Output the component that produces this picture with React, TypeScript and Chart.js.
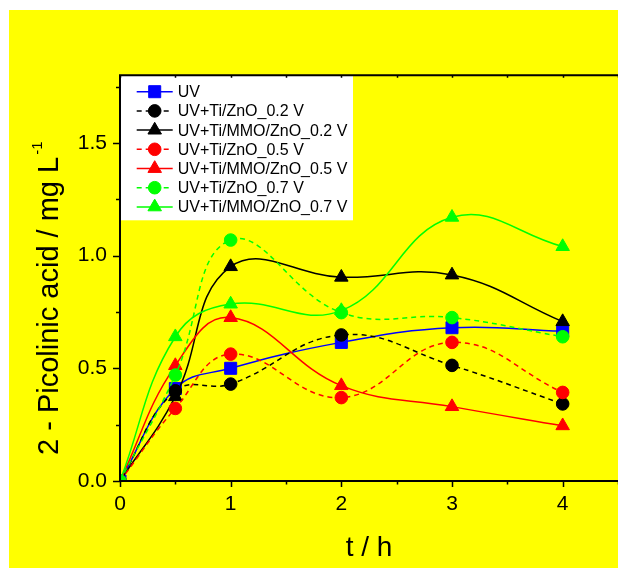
import React, { useEffect, useRef } from 'react';
import { Chart, registerables } from 'chart.js';

Chart.register(...registerables);

// ---- data ----
const times = [0, 0.5, 1, 2, 3, 4];
const seriesLabels = [
  'UV',
  'UV+Ti/ZnO_0.2 V',
  'UV+Ti/MMO/ZnO_0.2 V',
  'UV+Ti/ZnO_0.5 V',
  'UV+Ti/MMO/ZnO_0.5 V',
  'UV+Ti/ZnO_0.7 V',
  'UV+Ti/MMO/ZnO_0.7 V',
];
const uv = [0, 0.41, 0.5, 0.615, 0.68, 0.665];
const zno02 = [0, 0.4, 0.43, 0.648, 0.513, 0.342];
const mmo02 = [0, 0.374, 0.951, 0.904, 0.914, 0.707];
const zno05 = [0, 0.322, 0.563, 0.37, 0.615, 0.393];
const mmo05 = [0, 0.512, 0.725, 0.423, 0.33, 0.245];
const zno07 = [0, 0.47, 1.069, 0.747, 0.725, 0.64];
const mmo07 = [0, 0.64, 0.785, 0.756, 1.17, 1.04];
const seriesValues = [uv, zno02, mmo02, zno05, mmo05, zno07, mmo07];

const xTicks = [0, 0.5, 1, 1.5, 2, 2.5, 3, 3.5, 4, 4.5];
const yTicks = [0, 0.25, 0.5, 0.75, 1, 1.25, 1.5, 1.75];
const xTitle = 't / h';
const yTitleMain = '2 - Picolinic acid / mg L';
const yTitleSup = '-1';

// ---- styles ----
const FONT = "'Liberation Sans', Arial, Helvetica, sans-serif";
const seriesStyles = [
  { color: '#0000ff', dash: [] as number[], shape: 'rect', r: 8.5 },
  { color: '#000000', dash: [5, 4], shape: 'circle', r: 6.3 },
  { color: '#000000', dash: [] as number[], shape: 'triangle', r: 7.8 },
  { color: '#ff0000', dash: [5, 4], shape: 'circle', r: 6.3 },
  { color: '#ff0000', dash: [] as number[], shape: 'triangle', r: 7.8 },
  { color: '#00ff00', dash: [5, 4], shape: 'circle', r: 6.3 },
  { color: '#00ff00', dash: [] as number[], shape: 'triangle', r: 7.8 },
];

function drawMarker(ctx: CanvasRenderingContext2D, shape: string, x: number, y: number, r: number, color: string) {
  ctx.save();
  ctx.setLineDash([]);
  ctx.fillStyle = color;
  ctx.strokeStyle = color;
  ctx.lineWidth = 1;
  ctx.beginPath();
  if (shape === 'rect') {
    const s = Math.SQRT1_2 * r;
    ctx.rect(x - s, y - s, 2 * s, 2 * s);
  } else if (shape === 'triangle') {
    let rad = 0;
    ctx.moveTo(x + Math.sin(rad) * r, y - Math.cos(rad) * r);
    rad += (2 * Math.PI) / 3;
    ctx.lineTo(x + Math.sin(rad) * r, y - Math.cos(rad) * r);
    rad += (2 * Math.PI) / 3;
    ctx.lineTo(x + Math.sin(rad) * r, y - Math.cos(rad) * r);
    ctx.closePath();
  } else {
    ctx.arc(x, y, r, 0, Math.PI * 2);
  }
  ctx.fill();
  ctx.stroke();
  ctx.restore();
}

const framePlugin = {
  id: 'frameLegend',
  afterDatasetsDraw(chart: any) {
    const { ctx, chartArea: ca, scales } = chart;
    const xs = scales.x;
    const ys = scales.y;
    ctx.save();

    // legend box
    ctx.fillStyle = '#ffffff';
    ctx.fillRect(ca.left, ca.top, 233, 145);
    const rowTop = ca.top + 16.4;
    const rowStep = 19.2;
    seriesLabels.forEach((label, i) => {
      const st = seriesStyles[i];
      const cy = rowTop + i * rowStep;
      ctx.save();
      ctx.strokeStyle = st.color;
      ctx.lineWidth = 1.5;
      ctx.setLineDash(st.dash);
      ctx.beginPath();
      ctx.moveTo(ca.left + 16.7, cy);
      ctx.lineTo(ca.left + 52.7, cy);
      ctx.stroke();
      ctx.restore();
      drawMarker(ctx, st.shape, ca.left + 34.7, cy, st.r, st.color);
      ctx.fillStyle = '#000';
      ctx.font = `16px ${FONT}`;
      ctx.textBaseline = 'middle';
      ctx.textAlign = 'left';
      ctx.fillText(label, ca.left + 57.7, cy + 1);
    });

    // axes lines
    ctx.strokeStyle = '#000';
    ctx.lineWidth = 2;
    ctx.setLineDash([]);
    ctx.beginPath();
    ctx.moveTo(ca.left, ca.top);
    ctx.lineTo(ca.left, ca.bottom);
    ctx.moveTo(ca.left - 1, ca.bottom);
    ctx.lineTo(chart.width, ca.bottom);
    ctx.moveTo(ca.left - 1, ca.top);
    ctx.lineTo(chart.width, ca.top);
    ctx.stroke();

    // ticks
    ctx.lineWidth = 1.5;
    ctx.beginPath();
    xTicks.forEach((v) => {
      const px = Math.round(xs.getPixelForValue(v)) + 0.5;
      const major = Math.abs(v - Math.round(v)) < 1e-9;
      ctx.moveTo(px, ca.bottom);
      ctx.lineTo(px, ca.bottom + (major ? 6 : 3.5));
      ctx.moveTo(px, ca.top);
      ctx.lineTo(px, ca.top + 2.5);
    });
    yTicks.forEach((v) => {
      const py = Math.round(ys.getPixelForValue(v)) + 0.5;
      const major = Math.abs(v * 2 - Math.round(v * 2)) < 1e-9;
      ctx.moveTo(ca.left, py);
      ctx.lineTo(ca.left - (major ? 7 : 4), py);
    });
    ctx.stroke();

    // axis titles
    ctx.fillStyle = '#000';
    ctx.textAlign = 'center';
    ctx.textBaseline = 'alphabetic';
    ctx.font = `28px ${FONT}`;
    ctx.fillText(xTitle, (ca.left + ca.right) / 2, 546);

    ctx.save();
    ctx.translate(49, 445);
    ctx.rotate(-Math.PI / 2);
    ctx.textAlign = 'left';
    ctx.font = `29px ${FONT}`;
    ctx.fillText(yTitleMain, 0, 0);
    const w = ctx.measureText(yTitleMain).width;
    ctx.font = `15px ${FONT}`;
    ctx.fillText(yTitleSup, w + 2, -16);
    ctx.restore();

    ctx.restore();
  },
};

export default function App() {
  const ref = useRef<HTMLCanvasElement>(null);

  useEffect(() => {
    if (!ref.current) return;
    const datasets = seriesLabels.map((label, i) => {
      const st = seriesStyles[i];
      return {
        label,
        data: times.map((t, j) => ({ x: t, y: seriesValues[i][j] })),
        borderColor: st.color,
        backgroundColor: st.color,
        borderWidth: 1.5,
        borderDash: st.dash,
        pointStyle: st.shape,
        pointRadius: st.r,
        pointBorderWidth: 1,
        pointBackgroundColor: st.color,
        pointBorderColor: st.color,
        tension: 0.42,
        order: seriesLabels.length - i,
        clip: 0,
      };
    });

    const chart = new Chart(ref.current, {
      type: 'line',
      data: { datasets },
      plugins: [framePlugin],
      options: {
        animation: false,
        responsive: false,
        layout: { padding: { top: 65.3, right: 9.5, left: 0, bottom: 0 } },
        plugins: { legend: { display: false }, tooltip: { enabled: false } },
        scales: {
          x: {
            type: 'linear',
            min: 0,
            max: 4.5,
            afterBuildTicks: (s: any) => {
              s.ticks = xTicks.map((v) => ({ value: v }));
            },
            afterFit: (s: any) => {
              s.height = 87;
            },
            ticks: {
              autoSkip: false,
              maxRotation: 0,
              padding: 11,
              color: '#000',
              font: { family: FONT, size: 21 },
              callback: (v: any) => (Math.abs(v - Math.round(v)) < 1e-9 ? String(Math.round(v)) : ''),
            },
            grid: { display: false, drawTicks: false },
            border: { display: false },
          },
          y: {
            type: 'linear',
            min: 0,
            max: 1.8,
            afterBuildTicks: (s: any) => {
              s.ticks = yTicks.map((v) => ({ value: v }));
            },
            afterFit: (s: any) => {
              s.width = 111;
            },
            ticks: {
              autoSkip: false,
              padding: 13,
              color: '#000',
              font: { family: FONT, size: 21 },
              callback: (v: any) => (Math.abs(v * 2 - Math.round(v * 2)) < 1e-9 ? Number(v).toFixed(1) : ''),
            },
            grid: { display: false, drawTicks: false },
            border: { display: false },
          },
        },
      },
    } as any);
    return () => chart.destroy();
  }, []);

  return (
    <div
      style={{
        position: 'fixed',
        left: 9,
        top: 10,
        width: 609,
        height: 558,
        overflow: 'hidden',
        background: '#ffff00',
      }}
    >
      <canvas ref={ref} width={620} height={558} style={{ display: 'block', width: 620, height: 558 }} />
    </div>
  );
}
